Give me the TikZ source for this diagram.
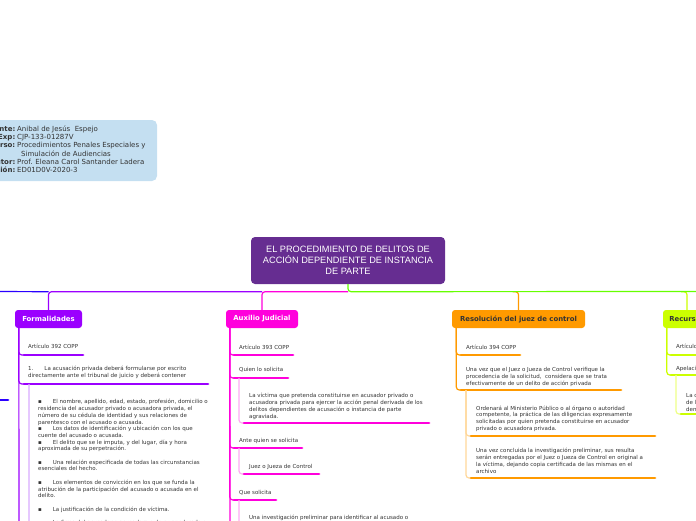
\documentclass[tikz,border=0pt]{standalone}
\usepackage{fontspec}
\setmainfont{DejaVu Sans}
\newfontfamily\rootfont{Liberation Sans}
\usepackage{tikz}

\definecolor{txt}{HTML}{333333}
\definecolor{infoc}{HTML}{C4DFF1}
\definecolor{rootc}{HTML}{662D91}
\definecolor{purF}{HTML}{9B00FF}
\definecolor{purFl}{HTML}{D8AAFF}
\definecolor{magA}{HTML}{FF00DC}
\definecolor{magAl}{HTML}{FFAAF4}
\definecolor{orgR}{HTML}{FF9A00}
\definecolor{orgRl}{HTML}{FFD799}
\definecolor{limR}{HTML}{CCFF00}
\definecolor{limRl}{HTML}{EEFF88}
\definecolor{grnM}{HTML}{66FF00}
\definecolor{bluL}{HTML}{2A00FF}

\tikzset{
  root/.style={fill=rootc, text=white, rounded corners=4pt, inner sep=0pt,
    minimum width=194pt, minimum height=47pt, align=center,
    font=\rootfont\fontsize{9.2}{11}\selectfont},
  topic/.style={rounded corners=3pt, inner sep=0pt, minimum height=18pt,
    font=\bfseries\fontsize{6.9}{8}\selectfont},
  leaf/.style={anchor=north west, inner sep=0pt, align=left, text=txt,
    font=\fontsize{5.5}{6.7}\selectfont},
  info/.style={inner sep=0pt, text=txt, font=\fontsize{7}{8.2}\selectfont},
  uline/.style={line width=2.8pt, line cap=round},
  stem/.style={line width=1.2pt, rounded corners=3pt},
}

\begin{document}
\begin{tikzpicture}[x=1pt,y=-1pt]
    \useasboundingbox (0,0) rectangle (696,520);
    \clip (0,0) rectangle (696,520);

    \fill[infoc, rounded corners=5pt] (-40,120) rectangle (157,181);
    \foreach \l/\v/\y [count=\i] in {Estudiante:/{Anibal de Jesús\ \ Espejo}/131.5,
        Exp:/CJP-133-01287V/139.7,
        Curso:/{Procedimientos Penales Especiales y}/147.9,
        Tutor:/{Prof. Eleana Carol Santander Ladera}/164.3,
        Sección:/ED01D0V-2020-3/172.5} {
        \node[info, anchor=base east] (lab\i) at (15.5,\y) {\textbf{\l}};
        \node[info, anchor=base west] (val\i) at (17,\y) {\v};
      }
    \node[info, anchor=base west] (val6) at (21,156.1) {Simulación de Audiencias};

    \node[root] (root) at (348,260.5) {EL PROCEDIMIENTO DE DELITOS DE\\ACCIÓN DEPENDIENTE DE INSTANCIA\\DE PARTE};
    \path (root.south) ++(0,7.5) coordinate (hub);

    \node[topic, fill=purF, text=white, minimum width=67pt] (fml) at (48.5,319) {Formalidades};
    \node[topic, fill=magA, text=white, minimum width=72pt] (aux) at (262,319) {Auxilio Judicial};
    \node[topic, fill=orgR, text=txt, minimum width=133pt] (res) at (518.5,319) {Resolución del juez de control};
    \node[topic, fill=limR, text=txt, minimum width=48pt] (rec) at (687,319) {Recursos};

    \draw[stem, magA] (hub) -| (aux.north);
    \draw[stem, purF] (hub -| aux.north) -| (fml.north);
    \coordinate (offl) at (-10,291.5);
    \draw[stem, bluL] (hub -| fml.north) -- (offl);
    \draw[stem, orgR] (hub -| res.north) ++(-6,0) -| (res.north);
    \draw[stem, limR] (hub -| rec.north) ++(-6,0) -| (rec.north);
    \coordinate (offr) at (720,291.5);
    \draw[stem, grnM] (root.south) -- (hub) -- (offr);

    \coordinate (bstub) at (-20,400);
    \coordinate (bstube) at (8,400);
    \draw[uline, bluL] (bstub) -- (bstube);

    % Formalidades
    \path (fml.south west) ++(4,0) coordinate (fmls);
    \coordinate (fmle) at (19,530);
    \draw[stem, purF] (fmls) -- (fmle);
    \foreach \n/\t/\u/\e/\txt in {f1/344.3/355/83/{Artículo 392 COPP},
        f2/366.3/384/208/{1.\hspace{11pt}La acusación privada deberá formularse por escrito\\directamente ante el tribunal de juicio y deberá contener}} {
        \node[leaf] (\n) at (28,\t) {\txt};
        \coordinate (\n-a) at (24,\u);
        \coordinate (\n-b) at (\e,\u);
        \draw[stem, purF] (fmls) |- (\n-a);
        \draw[uline, purF] (\n-a) -- (\n-b);
      }
    \coordinate (f3-a) at (34,530);
    \draw[stem, purFl] (f2-a) ++(5,0) |- (f3-a);
    \node[leaf] (f3) at (38,399.3) {▪\hspace{11pt}El nombre, apellido, edad, estado, profesión, domicilio o\\
        residencia del acusador privado o acusadora privada, el\\
        número de su cédula de identidad y sus relaciones de\\
        parentesco con el acusado o acusada.\\
        ▪\hspace{11pt}Los datos de identificación y ubicación con los que\\
        cuente del acusado o acusada.\\
        ▪\hspace{11pt}El delito que se le imputa, y del lugar, día y hora\\
        aproximada de su perpetración.\\[6.7pt]
        ▪\hspace{11pt}Una relación especificada de todas las circunstancias\\
        esenciales del hecho.\\[6.7pt]
        ▪\hspace{11pt}Los elementos de convicción en los que se funda la\\
        atribución de la participación del acusado o acusada en el\\
        delito.\\[6.7pt]
        ▪\hspace{11pt}La justificación de la condición de víctima.\\[6.7pt]
        ▪\hspace{11pt}La firma del acusador o acusadora o de su apoderado o};

    % Auxilio Judicial
    \path (aux.south west) ++(4,0) coordinate (auxs);
    \coordinate (auxe) at (230,530);
    \draw[stem, magA] (auxs) -- (auxe);
    \foreach \n/\t/\u/\e/\txt in {a1/345.3/355/293/{Artículo 393 COPP},
        a2/367.3/378/288/{Quien lo solicita},
        a3/438.3/448/302/{Ante quien se solicita},
        a4/490.3/500/276/{Que solicita}} {
        \node[leaf] (\n) at (239,\t) {\txt};
        \coordinate (\n-a) at (234,\u);
        \coordinate (\n-b) at (\e,\u);
        \draw[stem, magA] (auxs) |- (\n-a);
        \draw[uline, magA] (\n-a) -- (\n-b);
      }
    \foreach \n/\p/\t/\u/\e/\txt in {a2x/a2/393.3/423/429/{La víctima que pretenda constituirse en acusador privado o\\acusadora privada para ejercer la acción penal derivada de los\\delitos dependientes de acusación o instancia de parte\\agraviada.},
        a3x/a3/464.3/474/319/{Juez o Jueza de Control},
        a4x/a4/515/560/430/{Una investigación preliminar para identificar al acusado o}} {
        \node[leaf] (\n) at (249,\t) {\txt};
        \coordinate (\n-a) at (244,\u);
        \coordinate (\n-b) at (\e,\u);
        \draw[stem, magAl] (\p-a) ++(5,0) |- (\n-a);
        \draw[uline, magA] (\n-a) -- (\n-b);
      }

    % Resolucion del juez de control
    \path (res.south west) ++(4.5,0) coordinate (ress);
    \foreach \n/\t/\u/\e/\txt in {r1/345/355/520/{Artículo 394 COPP},
        r2/367.3/390/621/{Una vez que el Juez o Jueza de Control verifique la\\procedencia de la solicitud,\ \ considera que se trata\\efectivamente de un delito de acción privada}} {
        \node[leaf] (\n) at (466,\t) {\txt};
        \coordinate (\n-a) at (461,\u);
        \coordinate (\n-b) at (\e,\u);
        \draw[stem, orgR] (ress) |- (\n-a);
        \draw[uline, orgR] (\n-a) -- (\n-b);
      }
    \foreach \n/\t/\u/\txt in {r2x/405.6/436/{Ordenará al Ministerio Público o al órgano o autoridad\\competente, la práctica de las diligencias expresamente\\solicitadas por quien pretenda constituirse en acusador\\privado o acusadora privada.},
        r2y/448.3/478/{Una vez concluida la investigación preliminar, sus resulta\\serán entregadas por el Juez o Jueza de Control en original a\\la víctima, dejando copia certificada de las mismas en el\\archivo}} {
        \node[leaf] (\n) at (476,\t) {\txt};
        \coordinate (\n-a) at (471,\u);
        \coordinate (\n-b) at (655,\u);
        \draw[stem, orgRl] (r2-a) ++(5,0) |- (\n-a);
        \draw[uline, orgR] (\n-a) -- (\n-b);
      }

    % Recursos
    \path (rec.south west) ++(4,0) coordinate (recs);
    \foreach \n/\t/\u/\txt in {c1/344.3/355/{Artículo 396 COPP},
        c2/366.3/375/{Apelación}} {
        \node[leaf] (\n) at (676,\t) {\txt};
        \coordinate (\n-a) at (671,\u);
        \coordinate (\n-b) at (730,\u);
        \draw[stem, limR] (recs) |- (\n-a);
        \draw[uline, limR] (\n-a) -- (\n-b);
      }
    \node[leaf] (c2x) at (686,393.3) {La decisión que declare inadmisible\\de la acusación privada será apelable por\\denunciante o denunciado.};
    \coordinate (c2x-a) at (681,414);
    \coordinate (c2x-b) at (730,414);
    \draw[stem, limRl] (c2-a) ++(5,0) |- (c2x-a);
    \draw[uline, limR] (c2x-a) -- (c2x-b);
  \end{tikzpicture}
\end{document}
